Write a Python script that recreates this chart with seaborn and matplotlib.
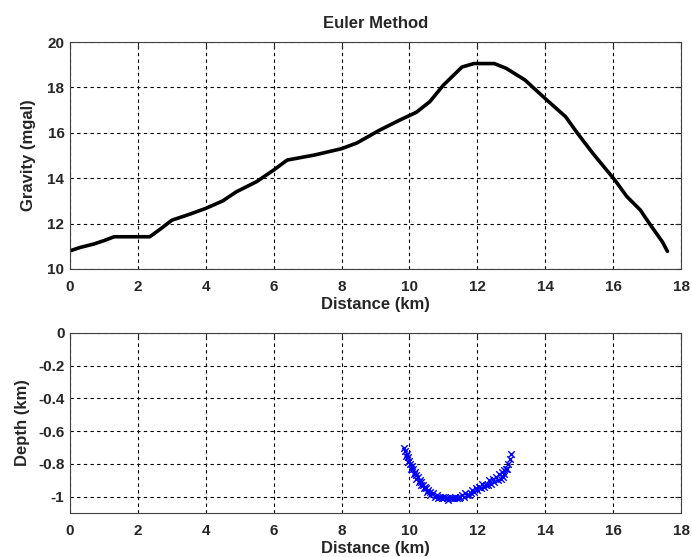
import matplotlib
matplotlib.use("Agg")
import matplotlib.pyplot as plt
import seaborn as sns
import pandas as pd

sns.set_style("white")
plt.rcParams['font.family'] = ['Liberation Sans', 'DejaVu Sans']
plt.rcParams['font.weight'] = 'bold'

# Gravity profile (top)
dist_km = [0.0, 0.3, 0.7, 1.0, 1.3, 2.35, 2.7, 3.0, 3.5, 4.0, 4.5, 4.9, 5.5, 6.0,
           6.4, 7.2, 8.0, 8.45, 9.1, 9.7, 10.2, 10.6, 11.0, 11.55, 11.9, 12.5,
           12.85, 13.4, 14.05, 14.6, 14.95, 15.4, 16.05, 16.4, 16.8, 17.1, 17.45, 17.6]
gravity_mgal = [10.8, 10.95, 11.1, 11.25, 11.42, 11.42, 11.8, 12.15, 12.4, 12.67, 13.0,
                13.4, 13.85, 14.36, 14.8, 15.02, 15.3, 15.55, 16.1, 16.55, 16.9, 17.37,
                18.1, 18.9, 19.05, 19.05, 18.84, 18.33, 17.44, 16.71, 15.98, 15.1, 13.92,
                13.2, 12.6, 11.94, 11.2, 10.78]

# Euler solutions (bottom)
euler_x = [9.85, 9.88, 9.92, 9.95, 10.0, 10.03, 10.07, 10.1, 10.15, 10.2, 10.25, 10.3,
           10.35, 10.4, 10.45, 10.5, 10.55, 10.6, 10.7, 10.8, 10.9, 11.0, 11.1, 11.2,
           11.3, 11.4, 11.5, 11.6, 11.7, 11.8, 11.9, 12.0, 12.1, 12.2, 12.3, 12.4, 12.5,
           12.6, 12.7, 12.75, 12.8, 12.85, 12.9, 12.95, 13.0,
           9.9, 9.97, 10.05, 10.12, 10.18, 10.27, 10.33, 10.42, 10.52, 10.62, 10.75,
           10.85, 10.95, 11.05, 11.15, 11.25, 11.35, 11.45, 11.55, 11.65, 11.75, 11.85,
           11.95, 12.05, 12.15, 12.25, 12.35, 12.45, 12.55, 12.65, 12.72, 12.78, 12.88]
euler_depth = [-0.70, -0.72, -0.74, -0.76, -0.78, -0.80, -0.81, -0.83, -0.85, -0.87, -0.88,
               -0.90, -0.91, -0.93, -0.94, -0.95, -0.96, -0.97, -0.98, -0.99, -1.0, -1.0,
               -1.01, -1.01, -1.01, -1.01, -1.0, -1.0, -0.99, -0.98, -0.97, -0.96, -0.95,
               -0.94, -0.93, -0.92, -0.91, -0.90, -0.89, -0.88, -0.86, -0.83, -0.80, -0.77,
               -0.74,
               -0.75, -0.79, -0.83, -0.86, -0.89, -0.91, -0.93, -0.95, -0.97, -0.99, -1.0,
               -1.01, -1.01, -1.0, -1.02, -1.01, -1.0, -1.01, -0.99, -0.98, -0.99, -0.96,
               -0.95, -0.94, -0.92, -0.93, -0.9, -0.89, -0.88, -0.86, -0.85, -0.84, -0.83]

x_ticks = [0, 2, 4, 6, 8, 10, 12, 14, 16, 18]
g_ticks = [10, 12, 14, 16, 18, 20]
d_ticks = [0, -0.2, -0.4, -0.6, -0.8, -1]

fig = plt.figure(figsize=(6.92, 5.57), dpi=100)
ax1 = fig.add_axes([70/692, 1-269/557, 611/692, 227/557])
ax2 = fig.add_axes([70/692, 1-513/557, 611/692, 180/557])

df_top = pd.DataFrame({"x": dist_km, "g": gravity_mgal})
sns.lineplot(data=df_top, x="x", y="g", ax=ax1, color="black", linewidth=2.6,
             sort=False, estimator=None)
df_bot = pd.DataFrame({"x": euler_x, "d": euler_depth})
sns.scatterplot(data=df_bot, x="x", y="d", ax=ax2, color="#0000ff", marker="x",
                s=22, linewidth=1.0)

TICK_FS = 11
LAB_FS = 12
grid_kw = dict(color="black", linestyle=(0, (3, 3)), linewidth=0.8)
for ax in (ax1, ax2):
    ax.set_xlim(0, 18)
    ax.set_xticks(x_ticks)
    ax.set_xticklabels([str(t) for t in x_ticks], fontsize=TICK_FS, fontweight="bold")
    ax.grid(True, **grid_kw)
    ax.tick_params(direction="in", length=4, top=True, right=True)
    ax.tick_params(axis="x", pad=8)
    ax.tick_params(axis="y", pad=4)
    for s in ax.spines.values():
        s.set_color("#404040")
        s.set_linewidth(0.8)
    ax.set_xlabel("Distance (km)", fontsize=LAB_FS, fontweight="bold", labelpad=2)

ax1.set_ylim(10, 20)
ax1.set_yticks(g_ticks)
ax1.set_yticklabels([str(t) for t in g_ticks], fontsize=TICK_FS, fontweight="bold")
ax1.set_ylabel("Gravity (mgal)", fontsize=LAB_FS, fontweight="bold", labelpad=8)
ax1.set_title("Euler Method", fontsize=LAB_FS, fontweight="bold", pad=10)

ax2.set_ylim(-1.1, 0)
ax2.set_yticks(d_ticks)
ax2.set_yticklabels(["0", "-0.2", "-0.4", "-0.6", "-0.8", "-1"], fontsize=TICK_FS, fontweight="bold")
ax2.set_ylabel("Depth (km)", fontsize=LAB_FS, fontweight="bold", labelpad=6)

fig.savefig("out.png", dpi=100)
